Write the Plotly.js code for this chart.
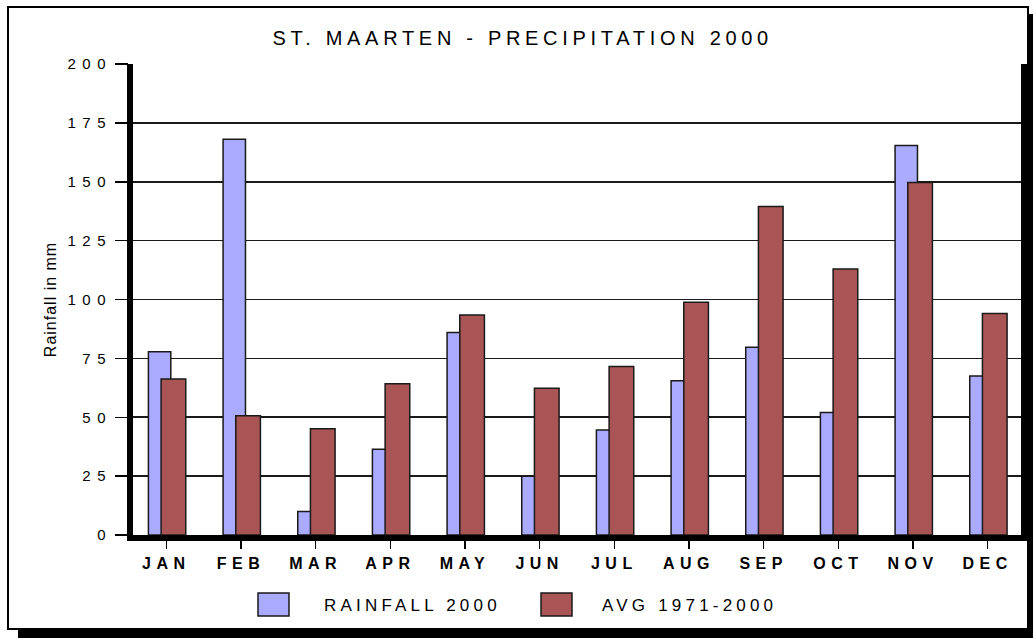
<!DOCTYPE html>
<html><head><meta charset="utf-8">
<script src="https://cdn.plot.ly/plotly-3.0.1.min.js"></script>
<style>
html,body{margin:0;padding:0;background:#fff;width:1033px;height:638px;overflow:hidden;}
#frame{position:absolute;left:7px;top:6px;width:1018px;height:620px;border:2px solid #000;background:#fff;box-shadow:11px 8px 0 #000;}
#chart{position:absolute;left:0;top:0;width:1033px;height:638px;}
.gtitle{letter-spacing:4.7px;}
.xtick text{letter-spacing:5.5px;}
.ytick text{letter-spacing:6.5px;}
.ytitle{letter-spacing:1px;}
.annotation-text{letter-spacing:4.2px;}
</style></head>
<body>
<div id="frame"></div>
<div id="chart"></div>
<script>
// ---- data ----
const months = ['JAN','FEB','MAR','APR','MAY','JUN','JUL','AUG','SEP','OCT','NOV','DEC'];
const rainfall2000 = [77.8,168,10,36.4,86,25,44.6,65.5,79.7,52,165.4,67.5];
const avg1971_2000 = [66.2,50.6,45.1,64.2,93.4,62.3,71.6,98.8,139.5,113,149.7,94.1];
const seriesNames = ['RAINFALL 2000','AVG 1971-2000'];
const yTickVals = [0,25,50,75,100,125,150,175,200];

const blue = '#AAAAFF';
const red = '#AA5555';
const edge = '#1a1a1a';
const FONT = 'Liberation Sans, Arial, sans-serif';

const traces = [
  {type:'bar', name:seriesNames[0], x:months, y:rainfall2000,
   offset:-0.24, width:0.30,
   marker:{color:blue, line:{color:edge, width:1.5}}, showlegend:false},
  {type:'bar', name:seriesNames[1], x:months, y:avg1971_2000,
   offset:-0.07, width:0.33,
   marker:{color:red, line:{color:edge, width:1.5}}, showlegend:false}
];

function pxRect(x0,x1,y0,y1,fill,line){
  return {type:'rect', layer:'above', xref:'paper', yref:'paper',
    xsizemode:'pixel', ysizemode:'pixel', xanchor:0, yanchor:0,
    x0:x0, x1:x1, y0:y0, y1:y1, fillcolor:fill,
    line:line||{width:0}};
}

const layout = {
  width:1033, height:638,
  margin:{l:129, r:8, t:64, b:103},
  paper_bgcolor:'rgba(0,0,0,0)', plot_bgcolor:'rgba(0,0,0,0)',
  barmode:'overlay',
  showlegend:false,
  title:{text:'ST. MAARTEN - PRECIPITATION 2000', xref:'container', yref:'container',
    x:0.506, xanchor:'center', y:1-38/638, yanchor:'middle',
    font:{family:FONT, size:20, color:'#000'}},
  xaxis:{type:'category', range:[-0.5,11.5], showgrid:false, zeroline:false, showline:false,
    ticks:'outside', ticklen:13, tickwidth:1.5, tickcolor:'#000',
    ticklabelstandoff:1,
    tickfont:{family:FONT, size:16, color:'#000', weight:'bold'}, fixedrange:true},
  yaxis:{range:[0,200], tickvals:yTickVals, ticktext:yTickVals.map(String),
    showgrid:true, gridcolor:edge, gridwidth:1.6, zeroline:false, showline:false,
    ticks:'outside', ticklen:13, tickwidth:1.5, tickcolor:'#000',
    tickfont:{family:FONT, size:15, color:'#000'},
    title:{text:'Rainfall in mm', standoff:6, font:{family:FONT, size:16, color:'#000'}},
    fixedrange:true},
  shapes:[
    pxRect(-2,4,-6,471,'#000'),
    pxRect(892,899,-6,471,'#000'),
    pxRect(-2,899,-6,0,'#000'),
    pxRect(129,160,-81,-58,blue,{color:edge,width:1.5}),
    pxRect(412,443,-81,-58,red,{color:edge,width:1.5})
  ],
  annotations:[
    {text:seriesNames[0], xref:'paper', yref:'paper', x:(322-129)/896, y:(535-605.5)/471,
     xanchor:'left', yanchor:'middle', showarrow:false, font:{family:FONT, size:17, color:'#000'}},
    {text:seriesNames[1], xref:'paper', yref:'paper', x:(600-129)/896, y:(535-605.5)/471,
     xanchor:'left', yanchor:'middle', showarrow:false, font:{family:FONT, size:17, color:'#000'}}
  ]
};

Plotly.newPlot('chart', traces, layout, {displayModeBar:false, staticPlot:true});
</script>
</body></html>
